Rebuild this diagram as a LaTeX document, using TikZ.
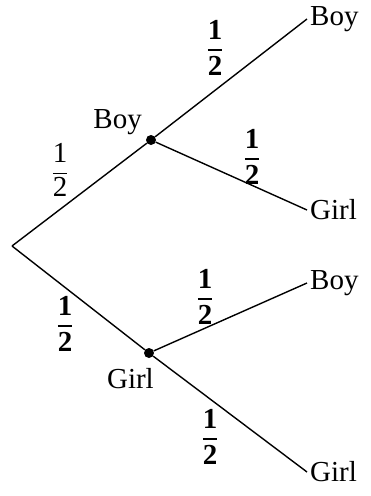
\documentclass[tikz,border=0pt]{standalone}
\usepackage{amsmath}
\usepackage{fontspec}
\setmainfont{Liberation Serif}
\usepackage{tikz}
\usetikzlibrary{positioning}

\newcommand{\halfn}{$\genfrac{}{}{1pt}{0}{\text{1}}{\text{2}}$}
\newcommand{\halfb}{$\genfrac{}{}{1.8pt}{0}{\text{\bfseries 1}}{\text{\bfseries 2}}$}

\begin{document}
\begin{tikzpicture}[
  x=1pt, y=-1pt,
  font=\fontsize{29}{33}\selectfont,
  branch/.style={line width=1.4pt},
  dot/.style={circle, fill, inner sep=0pt, minimum size=10pt},
  leaf/.style={anchor=west, inner sep=3pt},
  prob/.style={inner sep=0pt}
]
\useasboundingbox (0,0) rectangle (370,496);

% root and first level
\coordinate (root) at (12,246);
\node[dot] (b) at (151,140) {};
\node[dot] (g) at (149,353) {};
\node[above left=-2pt and 2pt of b] (blab) {Boy};
\node[below left=8pt and -12pt of g] (glab) {Girl};

% outcomes
\node[leaf] (bb) at (307,19) {Boy};
\node[leaf] (bg) at (307,210) {Girl};
\node[leaf] (gb) at (307,283) {Boy};
\node[leaf] (gg) at (307,472) {Girl};

\draw[branch] (root) -- (b);
\draw[branch] (root) -- (g);
\draw[branch] (b) -- (bb.west);
\draw[branch] (b) -- (bg.west);
\draw[branch] (g) -- (gb.west);
\draw[branch] (g) -- (gg.west);

% probabilities
\node[prob] (p1) at (60,170) {\halfn};
\node[prob] (p2) at (65,324) {\halfb};
\node[prob] (p3) at (215,48) {\halfb};
\node[prob] (p4) at (252,157) {\halfb};
\node[prob] (p5) at (205,297) {\halfb};
\node[prob] (p6) at (210,437) {\halfb};
\end{tikzpicture}
\end{document}
